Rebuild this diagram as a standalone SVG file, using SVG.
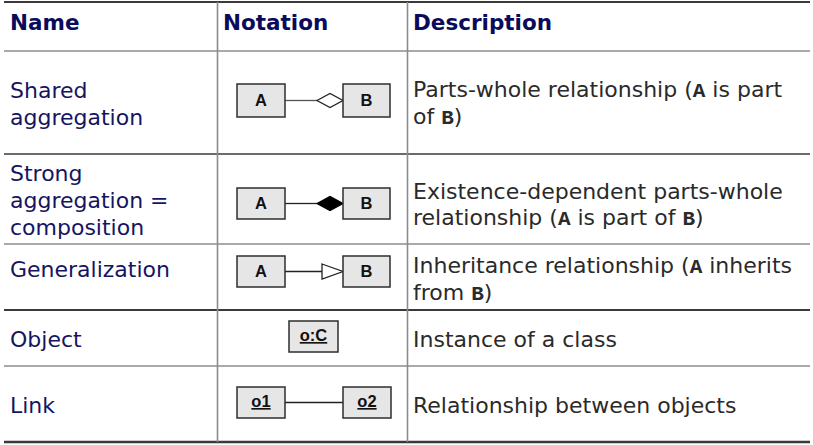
<svg xmlns="http://www.w3.org/2000/svg" width="813" height="445" viewBox="0 0 813 445">
<style>
.rd{stroke:#3a3a3a;stroke-width:2.2}
.rg{stroke:#8c8c8c;stroke-width:1.6}
.h{font-family:"DejaVu Sans",Verdana,sans-serif;font-weight:bold;font-size:21.5px;fill:#0b0b5c}
.n{font-family:"DejaVu Sans",Verdana,sans-serif;font-size:22px;fill:#15155f}
.d{font-family:"DejaVu Sans",Verdana,sans-serif;font-size:22px;fill:#2a2a2a}
.m{font-family:"Liberation Mono","Courier New",monospace;font-weight:bold;font-size:21px}
.box{fill:#e6e6e6;stroke:#2e2e2e;stroke-width:1.5}
.lbl{font-family:"Liberation Sans",Arial,sans-serif;font-weight:bold;font-size:16.5px;fill:#111;text-anchor:middle}
.u{text-decoration:underline}
.ln{stroke:#222;stroke-width:1.3;fill:none}
</style>
<rect width="813" height="445" fill="#fff"/>
<g id="grid">
<line class="rd" x1="4" y1="2" x2="810" y2="2"/>
<line class="rg" x1="4" y1="51" x2="810" y2="51"/>
<line class="rd" x1="4" y1="154" x2="810" y2="154" style="stroke-width:1.6"/>
<line class="rg" x1="4" y1="244" x2="810" y2="244"/>
<line class="rd" x1="4" y1="310" x2="810" y2="310"/>
<line class="rg" x1="4" y1="366" x2="810" y2="366"/>
<line class="rd" x1="4" y1="442" x2="810" y2="442" style="stroke-width:2.5"/>
<line class="rg" x1="217.5" y1="2" x2="217.5" y2="442"/>
<line class="rg" x1="407.5" y1="2" x2="407.5" y2="442"/>
</g>
<g id="header">
<text class="h" x="10" y="30">Name</text>
<text class="h" x="223" y="30">Notation</text>
<text class="h" x="413" y="30">Description</text>
</g>
<g id="names">
<text class="n" x="10" y="98">Shared</text>
<text class="n" x="10" y="125">aggregation</text>
<text class="n" x="10" y="181">Strong</text>
<text class="n" x="10" y="208">aggregation =</text>
<text class="n" x="10" y="235">composition</text>
<text class="n" x="10" y="277">Generalization</text>
<text class="n" x="10" y="347">Object</text>
<text class="n" x="10" y="413">Link</text>
</g>
<g id="descriptions">
<text class="d" x="413" y="97">Parts-whole relationship (<tspan class="m">A</tspan> is part</text>
<text class="d" x="413" y="124">of <tspan class="m">B</tspan>)</text>
<text class="d" x="413" y="199">Existence-dependent parts-whole</text>
<text class="d" x="413" y="225">relationship (<tspan class="m">A</tspan> is part of <tspan class="m">B</tspan>)</text>
<text class="d" x="413" y="273">Inheritance relationship (<tspan class="m">A</tspan> inherits</text>
<text class="d" x="413" y="300">from <tspan class="m">B</tspan>)</text>
<text class="d" x="413" y="347">Instance of a class</text>
<text class="d" x="413" y="413">Relationship between objects</text>
</g>
<g id="connectors">
<line x1="285" y1="100.5" x2="317" y2="100.5" class="ln" style="stroke:#555"/>
<polygon points="317,100.5 330,93.5 343,100.5 330,107.5" fill="#fff" stroke="#222" stroke-width="1.3"/>
<line x1="285" y1="203.5" x2="317" y2="203.5" class="ln"/>
<polygon points="317,203.5 330,196.5 343,203.5 330,210.5" fill="#000" stroke="#000" stroke-width="1.3"/>
<line x1="285" y1="271.5" x2="322" y2="271.5" class="ln"/>
<polygon points="322,264 343,271.5 322,279" fill="#fff" stroke="#222" stroke-width="1.3"/>
<line x1="285" y1="402.5" x2="343" y2="402.5" class="ln"/>
</g>
<g id="agg-A"><rect class="box" x="237" y="84" width="48" height="33"/><text class="lbl" x="261" y="105.5">A</text></g>
<g id="agg-B"><rect class="box" x="343" y="84" width="47" height="33"/><text class="lbl" x="366.5" y="105.5">B</text></g>
<g id="comp-A"><rect class="box" x="237" y="188" width="48" height="31"/><text class="lbl" x="261" y="209">A</text></g>
<g id="comp-B"><rect class="box" x="343" y="188" width="47" height="31"/><text class="lbl" x="366.5" y="209">B</text></g>
<g id="gen-A"><rect class="box" x="237" y="256" width="48" height="31"/><text class="lbl" x="261" y="277">A</text></g>
<g id="gen-B"><rect class="box" x="343" y="256" width="47" height="31"/><text class="lbl" x="366.5" y="277">B</text></g>
<g id="obj-oC"><rect class="box" x="289" y="321" width="49" height="31"/><text class="lbl u" x="313.5" y="341">o:C</text></g>
<g id="link-o1"><rect class="box" x="237" y="387" width="48" height="31"/><text class="lbl u" x="261" y="407">o1</text></g>
<g id="link-o2"><rect class="box" x="343" y="387" width="48" height="31"/><text class="lbl u" x="367" y="407">o2</text></g>
</svg>
